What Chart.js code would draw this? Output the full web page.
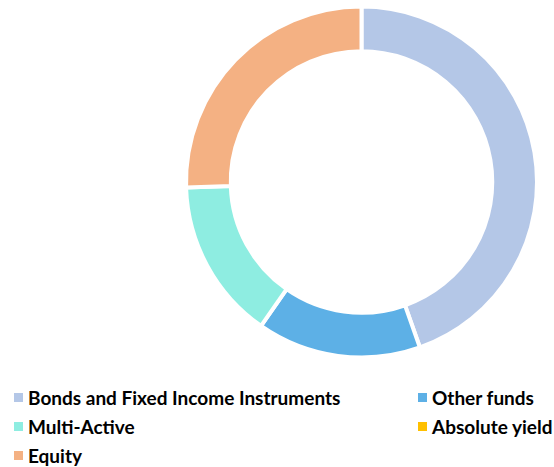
<!DOCTYPE html>
<html>
<head>
<meta charset="utf-8">
<script src="https://cdn.jsdelivr.net/npm/chart.js@4"></script>
<style>
  html, body { margin: 0; padding: 0; background: #fff; }
  body { width: 554px; height: 467px; position: relative; overflow: hidden; }
  #wrap { position: absolute; left: 0; top: 0; width: 554px; height: 364px; }
  #legend {
    position: absolute; left: 14px; top: 383px;
    display: grid; grid-template-columns: 404px auto; grid-auto-rows: 29px;
    font-family: Lato, "Open Sans", sans-serif; font-weight: 700; font-size: 19px; color: #000;
  }
  .item { display: flex; align-items: center; white-space: nowrap; }
  .box { width: 9px; height: 9px; margin-right: 5px; flex: none; }
</style>
</head>
<body>
<div id="wrap"><canvas id="c"></canvas></div>
<div id="legend"></div>
<script>
// Portfolio allocation by asset type (%)
const categories = ["Bonds and Fixed Income Instruments", "Other funds", "Multi-Active", "Absolute yield", "Equity"];
const shares = [44.6, 15.1, 14.8, 0, 25.5];
const colors = ["#b4c7e7", "#5db0e6", "#8eede1", "#ffc000", "#f4b183"];

const chart = new Chart(document.getElementById("c"), {
  type: "doughnut",
  data: {
    labels: categories,
    datasets: [{
      data: shares,
      backgroundColor: colors,
      borderColor: "#ffffff",
      borderWidth: 4,
      hoverBorderWidth: 4,
      hoverOffset: 0
    }]
  },
  options: {
    responsive: true,
    maintainAspectRatio: false,
    animation: false,
    cutout: "74.5%",
    layout: { padding: { left: 184, right: 15, top: 4.5, bottom: 4.5 } },
    plugins: {
      legend: { display: false },
      tooltip: { enabled: false }
    }
  }
});

// Two-column legend built from the chart's own label generator
const legendEl = document.getElementById("legend");
chart.options.plugins.legend.labels.generateLabels(chart).forEach(l => {
  const item = document.createElement("div");
  item.className = "item";
  const box = document.createElement("span");
  box.className = "box";
  box.style.background = l.fillStyle;
  const txt = document.createElement("span");
  txt.textContent = l.text;
  item.appendChild(box);
  item.appendChild(txt);
  legendEl.appendChild(item);
});
</script>
</body>
</html>
